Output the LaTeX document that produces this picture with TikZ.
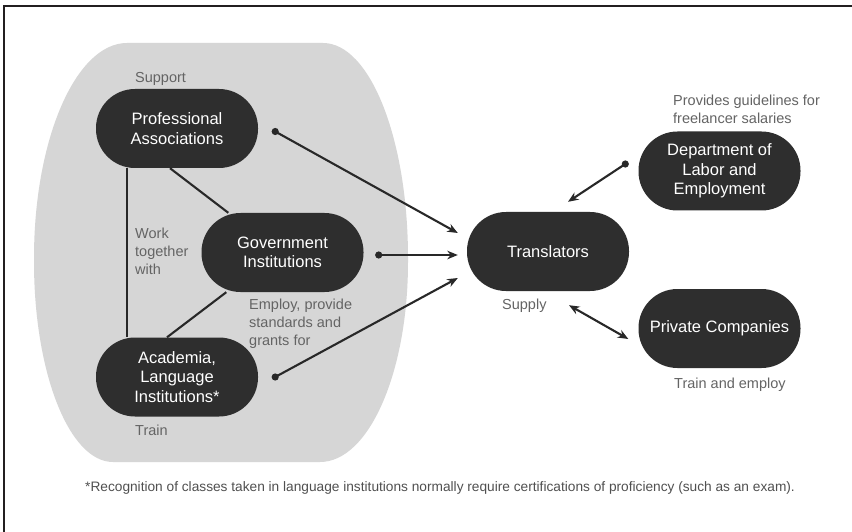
\documentclass[tikz,border=0pt]{standalone}
\usepackage{fontspec}
\setmainfont{Liberation Sans}
\usetikzlibrary{arrows.meta,calc}
\definecolor{blobgray}{RGB}{214,214,214}
\definecolor{nodefill}{RGB}{46,46,46}
\definecolor{linecol}{RGB}{40,40,40}
\definecolor{labelcol}{RGB}{100,100,100}
\definecolor{footcol}{RGB}{80,80,80}
\definecolor{framecol}{RGB}{35,31,32}
\begin{document}
\begin{tikzpicture}[x=1pt,y=-1pt,
  box/.style={fill=nodefill, text=white, rounded corners=39pt, minimum width=162pt, minimum height=79pt, inner sep=0pt, align=center, font=\fontsize{16.5}{19.5}\selectfont},
  lbl/.style={text=labelcol, inner sep=0pt, anchor=north west, align=left, font=\fontsize{14.5}{18}\selectfont},
  conn/.style={draw=linecol, line width=2.1pt},
  arr/.style={conn, -{Stealth[length=10.5pt,width=8.5pt]}},
  dblarr/.style={conn, {Stealth[length=10.5pt,width=8.5pt]}-{Stealth[length=10.5pt,width=8.5pt]}},
  dotmark/.style={fill=linecol}]
\useasboundingbox (0,0) rectangle (852,532);
\fill[white] (0,0) rectangle (852,532);
% frame
\draw[framecol, line width=2pt] (4,532) -- (4,6) -- (852,6);
% grey area
\fill[blobgray] (127,43) -- (323,43) .. controls (370,43) and (408,139) .. (408,258)
  -- (408,262) .. controls (408,372) and (369,462) .. (320,462)
  -- (113,462) .. controls (69,462) and (34,372) .. (34,262)
  -- (34,258) .. controls (34,139) and (76,43) .. (127,43) -- cycle;
% nodes
\node[box] (prof) at (177,128.5) {Professional\\Associations};
\node[box] (gov) at (282.5,252.5) {Government\\Institutions};
\node[box] (acad) at (177,377) {Academia,\\Language\\Institutions*};
\node[box] (trans) at (548,251.5) {Translators};
\node[box] (dept) at (719.5,171) {Department of\\Labor and\\Employment};
\node[box] (priv) at (719.5,328.5) {Private Companies};
% labels
\node[lbl] (lsupport) at (135,72.5) {Support};
\node[lbl] (lwork) at (135,227.5) {Work\\together\\with};
\node[lbl] (lemploy) at (249,298.5) {Employ, provide\\standards and\\grants for};
\node[lbl] (ltrain) at (135,424.5) {Train};
\node[lbl] (lsupply) at (502,298.5) {Supply};
\node[lbl] (lprov) at (673,94.5) {Provides guidelines for\\freelancer salaries};
\node[lbl] (ltrainemp) at (674,377.5) {Train and employ};
% lines inside the group
\draw[conn] ($(prof.south)+(-7,0)$) -- ($(gov.north west)+(27,0)$);
\draw[conn] ($(gov.south west)+(25,0)$) -- ($(acad.north)+(-10,0)$);
\draw[conn] ($(prof.south)+(-50,0)$) -- ($(acad.north)+(-50,0)$);
% connector ends
\coordinate (profout) at ($(prof.east)+(17,3)$);
\coordinate (govout) at ($(gov.east)+(15,2.5)$);
\coordinate (acadout) at ($(acad.east)+(17,0)$);
\coordinate (deptout) at ($(dept.west)+(-13,-7)$);
\coordinate (transin1) at ($(trans.west)+(-9,-18.5)$);
\coordinate (transin2) at ($(trans.west)+(-9,3.5)$);
\coordinate (transin3) at ($(trans.west)+(-9,26.5)$);
\coordinate (transin4) at ($(trans.north)+(20,-10)$);
\coordinate (transout) at ($(trans.south)+(21,14)$);
\coordinate (privin) at ($(priv.west)+(-10,10.5)$);
% arrows
\draw[arr] (profout) -- (transin1);
\draw[arr] (govout) -- (transin2);
\draw[arr] (acadout) -- (transin3);
\draw[arr] (deptout) -- (transin4);
\draw[dblarr] (transout) -- (privin);
\fill[dotmark] (profout) circle (3.6);
\fill[dotmark] (govout) circle (3.6);
\fill[dotmark] (acadout) circle (3.6);
\fill[dotmark] (deptout) circle (3.6);
% footnote
\node[text=footcol, inner sep=0pt, anchor=base west, font=\fontsize{13.7}{16}\selectfont] (foot) at (85,491) {*Recognition of classes taken in language institutions normally require certifications of proficiency (such as an exam).};
\end{tikzpicture}
\end{document}
